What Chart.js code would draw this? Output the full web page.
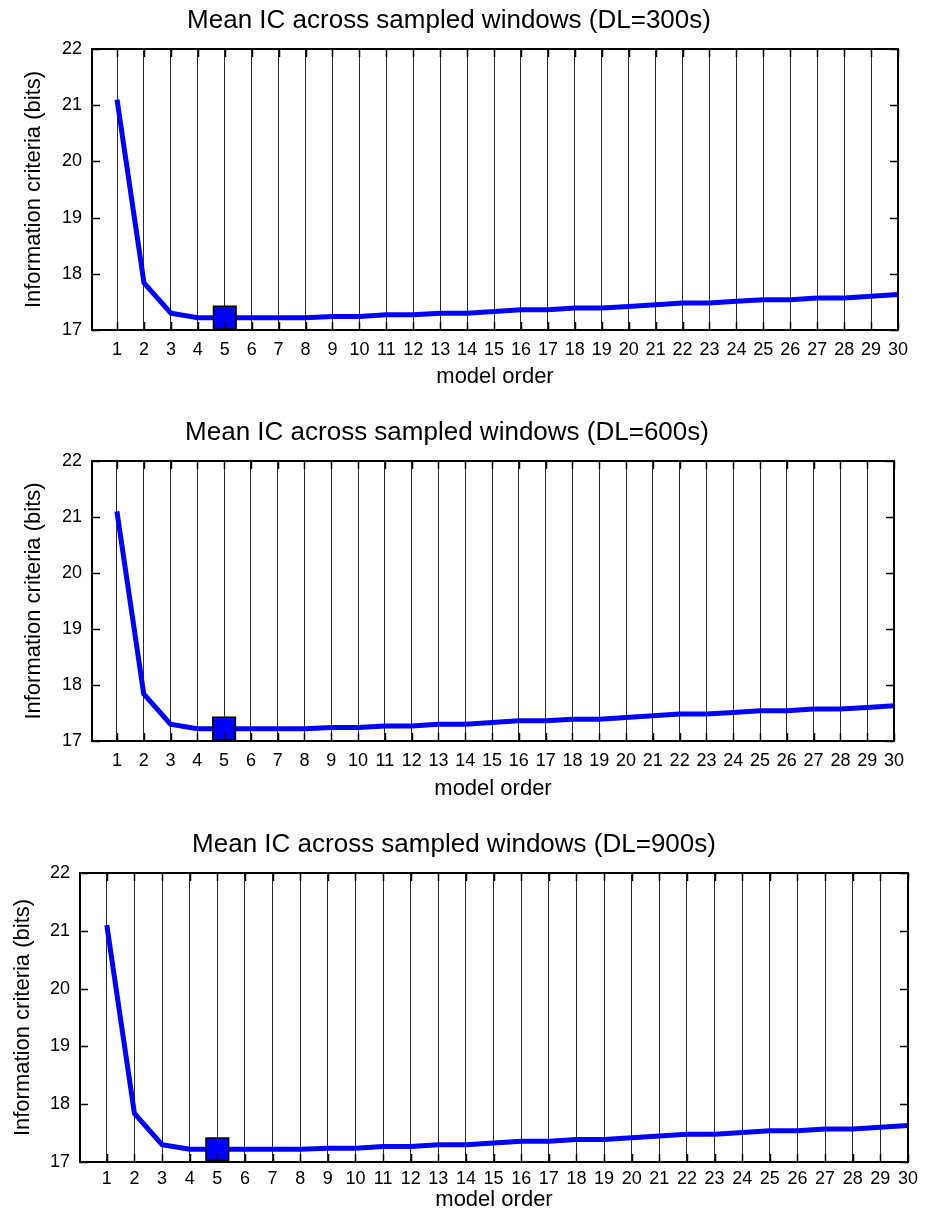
<!DOCTYPE html>
<html>
<head>
<meta charset="utf-8">
<script src="https://cdn.jsdelivr.net/npm/chart.js@4.4.1/dist/chart.umd.min.js"></script>
<style>
html, body { margin: 0; padding: 0; background: #fff; }
.panel { position: absolute; left: 0; width: 930px; }
</style>
</head>
<body>
<div class="panel" style="top:0px;height:412px"><canvas id="c1"></canvas></div>
<div class="panel" style="top:412px;height:412px"><canvas id="c2"></canvas></div>
<div class="panel" style="top:824px;height:393px"><canvas id="c3"></canvas></div>
<script>
// ---- data ----
const modelOrders = [1, 2, 3, 4, 5, 6, 7, 8, 9, 10, 11, 12, 13, 14, 15, 16, 17, 18, 19, 20, 21, 22, 23, 24, 25, 26, 27, 28, 29, 30];
const yTickValues = [17, 18, 19, 20, 21, 22];
const icDL300 = [21.10, 17.84, 17.30, 17.22, 17.22, 17.22, 17.22, 17.22, 17.24, 17.24, 17.27, 17.27, 17.30, 17.30, 17.33, 17.36, 17.36, 17.39, 17.39, 17.42, 17.45, 17.48, 17.48, 17.51, 17.54, 17.54, 17.57, 17.57, 17.60, 17.63];
const icDL600 = [21.10, 17.84, 17.30, 17.22, 17.22, 17.22, 17.22, 17.22, 17.24, 17.24, 17.27, 17.27, 17.30, 17.30, 17.33, 17.36, 17.36, 17.39, 17.39, 17.42, 17.45, 17.48, 17.48, 17.51, 17.54, 17.54, 17.57, 17.57, 17.60, 17.63];
const icDL900 = [21.10, 17.84, 17.30, 17.22, 17.22, 17.22, 17.22, 17.22, 17.24, 17.24, 17.27, 17.27, 17.30, 17.30, 17.33, 17.36, 17.36, 17.39, 17.39, 17.42, 17.45, 17.48, 17.48, 17.51, 17.54, 17.54, 17.57, 17.57, 17.60, 17.63];
const bestOrderDL300 = 5;
const bestOrderDL600 = 5;
const bestOrderDL900 = 5;
const panelTitles = ['Mean IC across sampled windows (DL=300s)', 'Mean IC across sampled windows (DL=600s)', 'Mean IC across sampled windows (DL=900s)'];
const xAxisTitle = 'model order';
const yAxisTitle = 'Information criteria (bits)';

const FONT = 'Liberation Sans, Arial, Helvetica, sans-serif';

const framePlugin = {
  id: 'frame',
  afterDraw(chart) {
    const {ctx, chartArea: a, scales} = chart;
    const xs = scales.x, ys = scales.y;
    ctx.save();
    ctx.strokeStyle = '#000';
    // inward x ticks (top & bottom)
    ctx.lineWidth = 1.5;
    ctx.beginPath();
    xs.ticks.forEach(t => {
      const px = Math.round(xs.getPixelForValue(t.value)) + 0.5;
      ctx.moveTo(px, a.bottom); ctx.lineTo(px, a.bottom - 8);
      ctx.moveTo(px, a.top); ctx.lineTo(px, a.top + 8);
    });
    // inward y ticks (left & right)
    ys.ticks.forEach(t => {
      const py = Math.round(ys.getPixelForValue(t.value)) + 0.5;
      ctx.moveTo(a.left, py); ctx.lineTo(a.left + 8, py);
      ctx.moveTo(a.right, py); ctx.lineTo(a.right - 8, py);
    });
    ctx.stroke();
    // frame
    ctx.lineWidth = 2;
    ctx.strokeRect(a.left, a.top, a.right - a.left, a.bottom - a.top);
    ctx.restore();
  }
};

function makeChart(id, values, bestOrder, titleText, lay) {
  const lineData = modelOrders.map((o, i) => ({x: o, y: values[i]}));
  const bestData = [{x: bestOrder, y: values[modelOrders.indexOf(bestOrder)]}];
  return new Chart(document.getElementById(id), {
    type: 'line',
    data: {
      datasets: [
        {
          data: lineData,
          borderColor: '#0000ff',
          borderWidth: 5,
          pointRadius: 0,
          tension: 0,
          fill: false,
          order: 2
        },
        {
          data: bestData,
          showLine: false,
          pointStyle: 'rect',
          pointRadius: 16,
          pointBackgroundColor: '#0000ff',
          pointBorderColor: '#000',
          pointBorderWidth: 1.5,
          clip: false,
          order: 1
        }
      ]
    },
    options: {
      responsive: true,
      maintainAspectRatio: false,
      animation: false,
      devicePixelRatio: 1,
      events: [],
      layout: { padding: { left: 0, right: lay.padRight, top: 0, bottom: 0 } },
      plugins: {
        legend: { display: false },
        tooltip: { enabled: false },
        title: {
          display: true,
          text: titleText,
          color: '#000',
          font: { family: FONT, size: 26, weight: 'normal', lineHeight: 1.2 },
          padding: { top: 5, bottom: 12.8 }
        }
      },
      scales: {
        x: {
          type: 'linear',
          min: lay.xMin,
          max: 30,
          afterBuildTicks: s => { s.ticks = modelOrders.map(v => ({value: v})); },
          afterFit: s => { s.height = lay.xHeight; },
          grid: { display: true, color: '#2a2a2a', lineWidth: 1, drawTicks: false },
          border: { display: false },
          ticks: {
            color: '#000',
            padding: lay.xTickPad,
            maxRotation: 0,
            autoSkip: false,
            font: { family: FONT, size: 18 }
          },
          title: {
            display: true,
            text: xAxisTitle,
            color: '#000',
            font: { family: FONT, size: 22, lineHeight: 1.2 },
            padding: { top: 0, bottom: lay.xTitleBottom }
          }
        },
        y: {
          type: 'linear',
          min: 17,
          max: 22,
          afterBuildTicks: s => { s.ticks = yTickValues.map(v => ({value: v})); },
          afterFit: s => { s.width = lay.yWidth; },
          grid: { display: false, drawTicks: false },
          border: { display: false },
          ticks: {
            color: '#000',
            padding: 10,
            font: { family: FONT, size: 18 }
          },
          title: {
            display: true,
            text: yAxisTitle,
            color: '#000',
            font: { family: FONT, size: 22, lineHeight: 1.2 },
            padding: { top: lay.yTitleTop, bottom: 0 }
          }
        }
      }
    },
    plugins: [framePlugin]
  });
}

makeChart('c1', icDL300, bestOrderDL300, panelTitles[0],
  { yWidth: 92, xHeight: 82, padRight: 32, xMin: 0.07, xTickPad: 9, xTitleBottom: 22, yTitleTop: 21 });
makeChart('c2', icDL600, bestOrderDL600, panelTitles[1],
  { yWidth: 92, xHeight: 83, padRight: 36, xMin: 0.07, xTickPad: 9, xTitleBottom: 22, yTitleTop: 21 });
makeChart('c3', icDL900, bestOrderDL900, panelTitles[2],
  { yWidth: 80, xHeight: 55, padRight: 22, xMin: 0.03, xTickPad: 6, xTitleBottom: 4, yTitleTop: 10 });
</script>
</body>
</html>
